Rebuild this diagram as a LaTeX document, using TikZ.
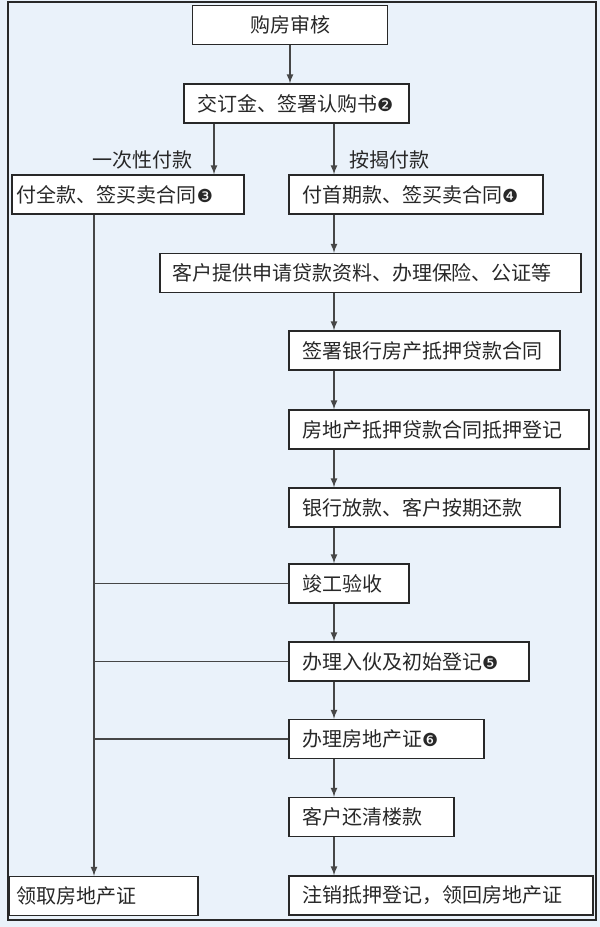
\documentclass[tikz,border=0pt]{standalone}
\usepackage{fontspec}
\setmainfont{Noto Sans CJK SC}
\newfontfamily\dingfont{DejaVu Sans}
\usetikzlibrary{arrows}
\definecolor{paper}{RGB}{234,242,250}
\definecolor{ink}{RGB}{40,40,40}
\definecolor{wire}{RGB}{70,70,70}
\newcommand{\cnum}[1]{{\dingfont\fontsize{9}{9}\selectfont #1}}
\tikzset{
  stepbox/.style={draw=ink,line width=.7pt,fill=white,text=ink,minimum height=19.5pt,
    inner xsep=6.5pt,align=left,text width=#1},
  lbl/.style={text=ink},
  arr/.style={draw=wire,line width=.55pt,-latex},
  link/.style={draw=wire,line width=.55pt}
}

\begin{document}
\begin{tikzpicture}
  [x=.5pt,y=-.5pt,every node/.style={font=\fontsize{10}{12}\selectfont}]
  \useasboundingbox (0,0) rectangle (600,927);
  \fill[paper] (0,0) rectangle (600,927);
  \draw[ink,line width=.75pt] (8,2) rectangle (596,920);

  \coordinate (lump) at (214,0);
  \coordinate (mort) at (334,0);
  \coordinate (side) at (94,0);

  \node[stepbox=84.5pt,align=center] (audit) at (290,25) {购房审核};
  \node[stepbox=99.5pt] (deposit) at (296.5,103.5) {交订金、签署认购书\cnum{❷}};
  \node[stepbox=111pt,inner xsep=2.5pt] (full) at (128,194.5) {付全款、签买卖合同\cnum{❸}};
  \node[stepbox=114pt] (first) at (416,194.5) {付首期款、签买卖合同\cnum{❹}};
  \node[stepbox=198.5pt,inner xsep=6pt] (apply) at (370.5,273) {客户提供申请贷款资料、办理保险、公证等};
  \node[stepbox=122.5pt] (sign) at (424.5,350.5) {签署银行房产抵押贷款合同};
  \node[stepbox=137pt] (reg) at (439,429.5) {房地产抵押贷款合同抵押登记};
  \node[stepbox=122.5pt] (loan) at (424.5,507.5) {银行放款、客户按期还款};
  \node[stepbox=47pt] (check) at (349,583.5) {竣工验收};
  \node[stepbox=107pt] (move) at (409,661.5) {办理入伙及初始登记\cnum{❺}};
  \node[stepbox=84.5pt] (cert) at (386.5,739) {办理房地产证\cnum{❻}};
  \node[stepbox=69.5pt] (pay) at (371.5,817) {客户还清楼款};
  \node[stepbox=139pt] (cancel) at (441,895.5) {注销抵押登记，领回房地产证};
  \node[stepbox=86.5pt,inner xsep=4pt] (take) at (103.5,896) {领取房地产证};

  \node[lbl] (lumplbl) at (142.5,160) {一次性付款};
  \node[lbl] (mortlbl) at (389.5,160) {按揭付款};

  \draw[arr] (audit.south) -- (audit.south |- deposit.north);
  \draw[arr] (deposit.south -| lump) -- (full.north -| lump);
  \draw[arr] (deposit.south -| mort) -- (first.north -| mort);

\foreach \from/\to in
{first/apply, apply/sign, sign/reg, reg/loan, loan/check, check/move, move/cert, cert/pay, pay/cancel}
    \draw[arr] (\from.south -| mort) -- (\to.north -| mort);

  \draw[arr] (full.south -| side) -- (take.north -| side);
\foreach \to in {check, move, cert}
    \draw[link] (\to.west) -- (\to.west -| side);
\end{tikzpicture}
\end{document}
